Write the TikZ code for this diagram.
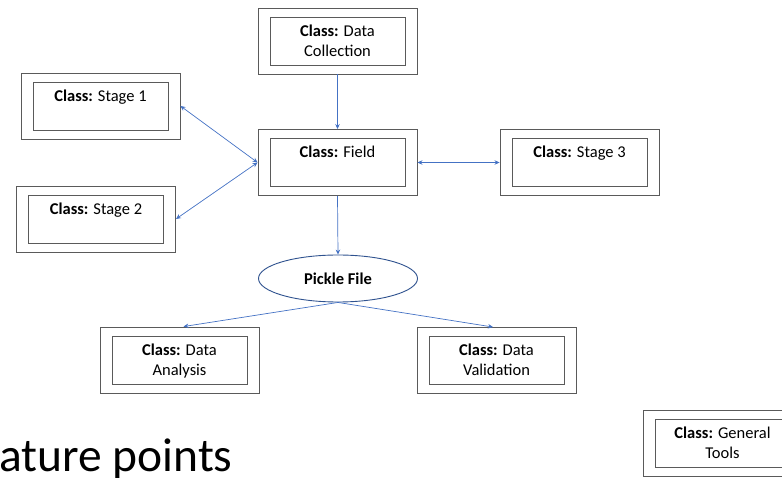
\documentclass[tikz,border=0pt]{standalone}
\usepackage{fontspec}
\setmainfont{Carlito}
\usetikzlibrary{arrows.meta,shapes.geometric}
\definecolor{boxline}{RGB}{90,90,90}
\definecolor{linkblue}{RGB}{68,114,196}
\definecolor{ovalline}{RGB}{47,82,143}

% a class drawn as a double box with its name at the top of the inner box
\newcommand{\classbox}[3]{%
  \node[outerbox] (#1) at (#2) {};
  \node[innerbox] (#1-in) at (#1.center) {};
  \node[boxlabel] (#1-txt) at ([yshift=-8pt]#1-in.north) {\textbf{Class:} #3};
}

\begin{document}
\begin{tikzpicture}[x=1pt,y=-1pt,
  outerbox/.style={draw=boxline,line width=0.9pt,minimum width=159pt,minimum height=66pt,inner sep=0pt},
  innerbox/.style={draw=boxline,line width=0.9pt,minimum width=135pt,minimum height=48pt,inner sep=0pt},
  boxlabel/.style={font=\fontsize{16.5}{20}\selectfont,align=center,inner sep=0pt,anchor=north},
  linkline/.style={draw=linkblue,line width=0.7pt},
  >={Stealth[length=5pt,width=4.5pt]}]

\useasboundingbox (0,0) rectangle (782,478);
\clip (0,0) rectangle (782,478);

\classbox{dc}{337.5,41}{Data\\Collection}
\classbox{field}{337.5,162.5}{Field}
\classbox{s1}{100.5,106}{Stage 1}
\classbox{s2}{96,219}{Stage 2}
\classbox{s3}{579.5,162.5}{Stage 3}
\classbox{an}{179.5,360}{Data\\Analysis}
\classbox{va}{496.5,360.5}{Data\\Validation}
\classbox{gt}{722.5,443}{General\\Tools}

\node[ellipse,draw=ovalline,line width=0.9pt,fill=white,minimum width=159pt,minimum height=47pt,
      inner sep=0pt,font=\bfseries\fontsize{16.5}{20}\selectfont] (pickle) at (338,278.5) {Pickle File};

\node[font=\fontsize{47.5}{56}\selectfont,anchor=base west,inner sep=0pt] (caption) at (-1,471) {ature points};

% connectors
\draw[linkline,->] (dc.south) -- (field.north);
\draw[linkline,<->] (s1.east) -- (field.west);
\draw[linkline,<->] (s2.east) -- (field.west);
\draw[linkline,<->] (field.east) -- (s3.west);
\draw[linkline,->] (field.south) -- (pickle.north);
\draw[linkline,->] (pickle.south) -- ([xshift=4pt]an.north);
\draw[linkline,->] (pickle.south) -- ([xshift=-3.5pt]va.north);
\end{tikzpicture}
\end{document}
